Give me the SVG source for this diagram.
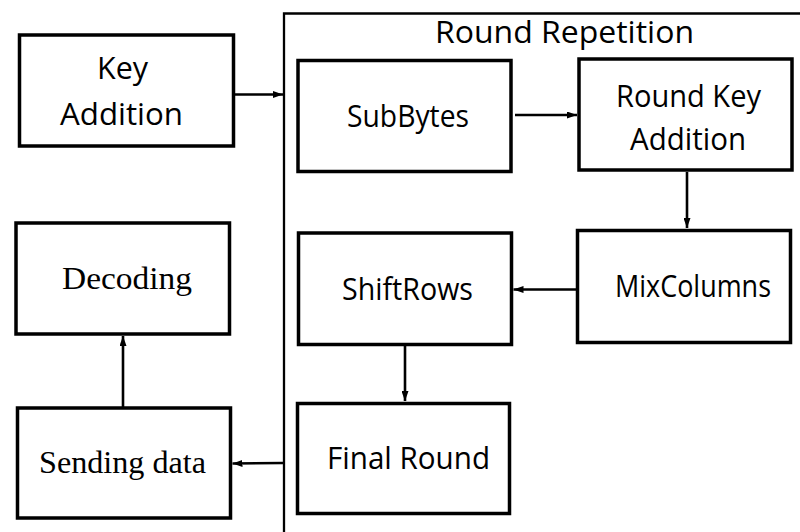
<svg xmlns="http://www.w3.org/2000/svg" width="800" height="532" viewBox="0 0 800 532">
  <style>
    .box { fill: #ffffff; stroke: #000000; stroke-width: 3.5; }
    .frame { fill: none; stroke: #000000; stroke-width: 2.3; }
    .edge { fill: none; stroke: #000000; stroke-width: 2.6; marker-end: url(#head); }
    .sans { font-family: "Open Sans", "Liberation Sans", sans-serif; font-size: 31px; fill: #000000; }
    .serif { font-family: "Liberation Serif", "DejaVu Serif", serif; font-size: 32px; fill: #000000; }
  </style>
  <defs>
    <marker id="head" viewBox="0 0 10 7" refX="10" refY="3.5" markerWidth="10" markerHeight="7" markerUnits="userSpaceOnUse" orient="auto">
      <path d="M0,0 L10,3.5 L0,7 Z" fill="#000000"/>
    </marker>
  </defs>
  <rect width="800" height="532" fill="#ffffff"/>

  <!-- round repetition frame -->
  <g id="round-repetition">
    <path class="frame" d="M284,532 V13.5 H800"/>
    <text class="sans" x="435" y="43" textLength="259" lengthAdjust="spacingAndGlyphs">Round Repetition</text>
  </g>

  <g id="key-addition">
    <rect class="box" x="19.5" y="35" width="214" height="111"/>
    <text class="sans" x="97" y="79" textLength="51" lengthAdjust="spacingAndGlyphs">Key</text>
    <text class="sans" x="60" y="125" textLength="123" lengthAdjust="spacingAndGlyphs">Addition</text>
  </g>

  <g id="subbytes">
    <rect class="box" x="298" y="60.5" width="213" height="111"/>
    <text class="sans" x="347" y="127" textLength="122" lengthAdjust="spacingAndGlyphs">SubBytes</text>
  </g>

  <g id="round-key-addition">
    <rect class="box" x="579" y="59" width="213" height="111"/>
    <text class="sans" x="616" y="107" textLength="145" lengthAdjust="spacingAndGlyphs">Round Key</text>
    <text class="sans" x="630" y="150" textLength="116" lengthAdjust="spacingAndGlyphs">Addition</text>
  </g>

  <g id="mixcolumns">
    <rect class="box" x="577.5" y="230.5" width="213" height="112"/>
    <text class="sans" x="615" y="297" textLength="156" lengthAdjust="spacingAndGlyphs">MixColumns</text>
  </g>

  <g id="shiftrows">
    <rect class="box" x="298.5" y="233" width="213" height="111.5"/>
    <text class="sans" x="342" y="300" textLength="131" lengthAdjust="spacingAndGlyphs">ShiftRows</text>
  </g>

  <g id="final-round">
    <rect class="box" x="297.5" y="403.5" width="212" height="110"/>
    <text class="sans" x="327" y="469" textLength="163" lengthAdjust="spacingAndGlyphs">Final Round</text>
  </g>

  <g id="decoding">
    <rect class="box" x="16" y="223" width="213.5" height="111"/>
    <text class="serif" x="62" y="289" textLength="130" lengthAdjust="spacingAndGlyphs">Decoding</text>
  </g>

  <g id="sending-data">
    <rect class="box" x="17.5" y="408" width="213" height="110"/>
    <text class="serif" x="39" y="473" textLength="167" lengthAdjust="spacingAndGlyphs">Sending data</text>
  </g>

  <!-- connectors -->
  <g id="connectors">
    <line class="edge" x1="235" y1="94.5" x2="283" y2="94.5"/>
    <line class="edge" x1="515" y1="115" x2="577" y2="115"/>
    <line class="edge" x1="687" y1="172" x2="687" y2="228"/>
    <line class="edge" x1="576" y1="289.5" x2="513.5" y2="289.5"/>
    <line class="edge" x1="405" y1="346" x2="405" y2="401"/>
    <line class="edge" x1="283" y1="463" x2="232.5" y2="463.5"/>
    <line class="edge" x1="123" y1="407" x2="123" y2="336"/>
  </g>
</svg>
